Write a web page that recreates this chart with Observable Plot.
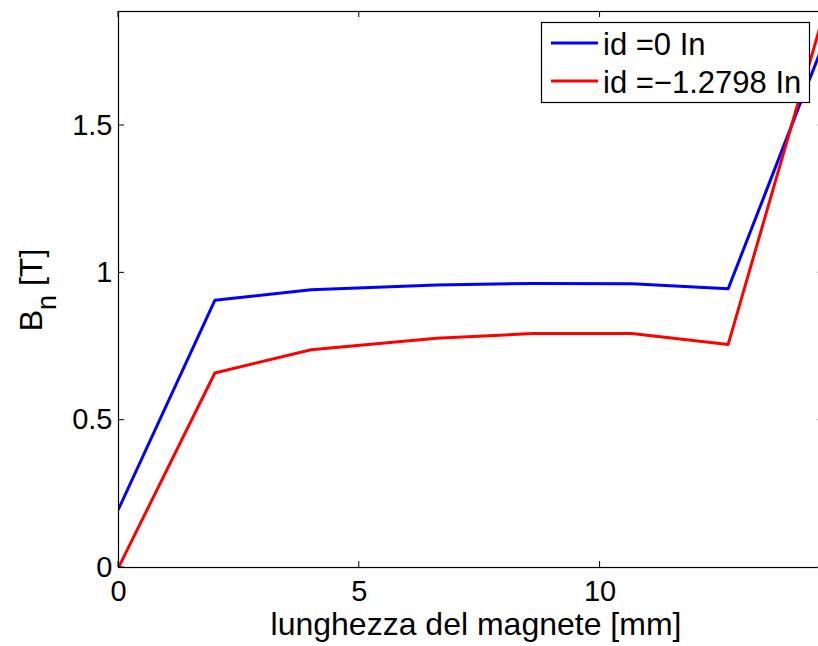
<!DOCTYPE html>
<html>
<head>
<meta charset="utf-8">
<script src="https://cdn.jsdelivr.net/npm/d3@7"></script>
<script src="https://cdn.jsdelivr.net/npm/@observablehq/plot@0.6"></script>
<style>
  html, body { margin: 0; padding: 0; background: #fff; overflow: hidden; }
  #chart { position: relative; width: 818px; height: 646px; }
</style>
</head>
<body>
<div id="chart"></div>
<script>
// Data
const positions = [0, 2, 4, 6.6, 8.6, 10.66, 12.66, 14.66];       // lunghezza del magnete [mm]
const bnId0     = [0.198, 0.907, 0.943, 0.959, 0.964, 0.963, 0.946, 1.787]; // id = 0 In
const bnIdNeg   = [0, 0.66, 0.739, 0.778, 0.794, 0.794, 0.757, 1.887];     // id = -1.2798 In
const seriesNames  = ["id =0 In", "id =\u22121.2798 In"];
const seriesColors = ["#0000ff", "#ff0000"];
const xTicks = [0, 5, 10];
const yTicks = [0, 0.5, 1, 1.5];
const xLabel = "lunghezza del magnete [mm]";
const yLabelMain = "B", yLabelSub = "n", yLabelRest = " [T]";

const rows = [];
positions.forEach((x, i) => rows.push({x, y: bnId0[i], s: seriesNames[0]}));
positions.forEach((x, i) => rows.push({x, y: bnIdNeg[i], s: seriesNames[1]}));

const font = "'Liberation Sans', Arial, Helvetica, sans-serif";

const plot = Plot.plot({
  width: 818,
  height: 646,
  marginLeft: 118,
  marginRight: -6,
  marginTop: 11,
  marginBottom: 79,
  style: {fontFamily: font, fontSize: "29px", color: "#000", background: "#fff"},
  x: {domain: [0, 14.66], label: null},
  y: {domain: [0, 1.887], label: null},
  color: {domain: seriesNames, range: seriesColors},
  marks: [
    Plot.line(rows, {x: "x", y: "y", z: "s", stroke: "s", strokeWidth: 3, clip: true}),
    Plot.frame({stroke: "#000", strokeWidth: 1.2}),
    Plot.axisX({ticks: xTicks, tickSize: 0, tickPadding: 13, tickFormat: d => d3.format("~g")(d), fontSize: 29}),
    Plot.axisY({ticks: yTicks, tickSize: 0, tickPadding: 6, tickFormat: d => d3.format("~g")(d), fontSize: 29})
  ]
});
plot.style.maxWidth = "none";
document.getElementById("chart").appendChild(plot);

const svg = d3.select(plot);
const sx = plot.scale("x"), sy = plot.scale("y");
const [x0, x1] = sx.range, [y0, y1] = sy.range; // y0 bottom, y1 top
const tickLen = 6;
const tg = svg.append("g").attr("stroke", "#000").attr("stroke-width", 1);
xTicks.forEach(v => {
  const px = sx.apply(v);
  tg.append("line").attr("x1", px).attr("x2", px).attr("y1", y0).attr("y2", y0 - tickLen);
  tg.append("line").attr("x1", px).attr("x2", px).attr("y1", y1).attr("y2", y1 + tickLen);
});
yTicks.forEach(v => {
  const py = sy.apply(v);
  tg.append("line").attr("x1", x0).attr("x2", x0 + tickLen).attr("y1", py).attr("y2", py);
  tg.append("line").attr("x1", x1).attr("x2", x1 - tickLen - 1).attr("y1", py).attr("y2", py).attr("stroke", "#999");
});

// x label
svg.append("text")
  .attr("x", 476).attr("y", 635)
  .attr("text-anchor", "middle")
  .attr("font-family", font).attr("font-size", 32).attr("fill", "#000")
  .text(xLabel);
// y label with subscript
const yl = svg.append("text")
  .attr("transform", "translate(42,290) rotate(-90)")
  .attr("text-anchor", "middle")
  .attr("font-family", font).attr("font-size", 32).attr("fill", "#000");
yl.append("tspan").text(yLabelMain);
yl.append("tspan").attr("font-size", 27).attr("dy", 14).text(yLabelSub);
yl.append("tspan").attr("dy", -14).text(yLabelRest);

// legend
const lg = svg.append("g").attr("font-family", font).attr("font-size", 31).attr("text-anchor", "start");
lg.append("rect").attr("x", 541.5).attr("y", 22.5).attr("width", 268).attr("height", 80)
  .attr("fill", "#fff").attr("stroke", "#000").attr("stroke-width", 1.2);
seriesNames.forEach((name, i) => {
  const cy = 43 + i * 38;
  lg.append("line").attr("x1", 551).attr("x2", 598).attr("y1", cy).attr("y2", cy)
    .attr("stroke", seriesColors[i]).attr("stroke-width", 3);
  lg.append("text").attr("x", 603).attr("y", cy + 12).attr("fill", "#000")
    .attr("text-anchor", "start").text(name);
});
</script>
</body>
</html>
